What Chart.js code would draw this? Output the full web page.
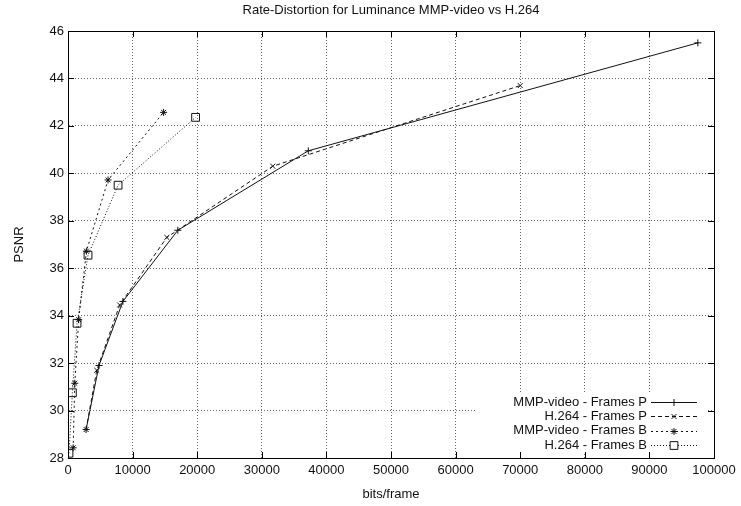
<!DOCTYPE html>
<html>
<head>
<meta charset="utf-8">
<script src="https://cdn.jsdelivr.net/npm/chart.js@4/dist/chart.umd.min.js"></script>
<style>
  html, body { margin: 0; padding: 0; background: #fff; }
  #wrap { width: 741px; height: 506px; }
</style>
</head>
<body>
<div id="wrap"><canvas id="rd"></canvas></div>
<script>
// values
const mmpP_bits  = [2800, 4800, 8500, 17000, 37200, 97500];
const mmpP_psnr  = [29.2, 31.9, 34.6, 37.6, 40.95, 45.5];
const h264P_bits = [2800, 4450, 8000, 15300, 31700, 70000];
const h264P_psnr = [29.2, 31.7, 34.45, 37.3, 40.3, 43.7];
const mmpB_bits  = [800, 1050, 1650, 2850, 6200, 14800];
const mmpB_psnr  = [28.43, 31.15, 33.83, 36.72, 39.72, 42.57];
const h264B_bits = [150, 680, 1400, 3100, 7750, 19750];
const h264B_psnr = [28.2, 30.75, 33.68, 36.55, 39.5, 42.36];

const seriesNames = ["MMP-video - Frames P", "H.264 - Frames P", "MMP-video - Frames B", "H.264 - Frames B"];
const chartTitle = "Rate-Distortion for Luminance MMP-video vs H.264";

const FONT = "'Liberation Sans', Arial, sans-serif";

function pts(xs, ys) {
  return xs.map((x, i) => ({ x: x, y: ys[i] }));
}

function makeSet(label, data, dash, style, radius) {
  return {
    label: label,
    data: data,
    borderColor: "#111",
    borderWidth: 1,
    borderDash: dash,
    pointStyle: style,
    pointRadius: radius,
    pointBorderColor: "#111",
    pointBackgroundColor: "rgba(0,0,0,0)",
    pointBorderWidth: 1,
    fill: false,
    tension: 0
  };
}

// gnuplot style frame, inward ticks, title and legend
const gnuplotLook = {
  id: "gnuplotLook",
  beforeDatasetsDraw(chart) {
    const ctx = chart.ctx;
    const a = chart.chartArea;
    // legend area clears the grid
    ctx.save();
    ctx.fillStyle = "#fff";
    ctx.fillRect(476, 394, a.right - 7 - 476, a.bottom - 6 - 394);
    ctx.restore();
  },
  afterDraw(chart) {
    const ctx = chart.ctx;
    const a = chart.chartArea;
    const xs = chart.scales.x;
    const ys = chart.scales.y;
    ctx.save();
    ctx.strokeStyle = "#000";
    ctx.lineWidth = 1;
    ctx.setLineDash([]);
    ctx.strokeRect(Math.round(a.left) + 0.5, Math.round(a.top) + 0.5,
      Math.round(a.right - a.left), Math.round(a.bottom - a.top));
    const tl = 6;
    ctx.beginPath();
    xs.ticks.forEach(t => {
      const px = Math.round(xs.getPixelForValue(t.value)) + 0.5;
      ctx.moveTo(px, a.bottom); ctx.lineTo(px, a.bottom - tl);
      ctx.moveTo(px, a.top); ctx.lineTo(px, a.top + tl);
    });
    ys.ticks.forEach(t => {
      const py = Math.round(ys.getPixelForValue(t.value)) + 0.5;
      ctx.moveTo(a.left, py); ctx.lineTo(a.left + tl, py);
      ctx.moveTo(a.right, py); ctx.lineTo(a.right - tl, py);
    });
    ctx.stroke();

    // title
    ctx.fillStyle = "#111";
    ctx.font = "13px " + FONT;
    ctx.textAlign = "center";
    ctx.textBaseline = "middle";
    ctx.fillText(chartTitle, (a.left + a.right) / 2, 10);

    // legend
    const textRight = 647;
    const lineL = 651, lineR = 697;
    const rowY = 402;
    const rowH = 14.4;
    chart.data.datasets.forEach((ds, i) => {
      const y = rowY + i * rowH;
      ctx.fillStyle = "#111";
      ctx.textAlign = "right";
      ctx.fillText(ds.label, textRight, y);
      ctx.strokeStyle = "#111";
      ctx.setLineDash(ds.borderDash);
      ctx.beginPath();
      ctx.moveTo(lineL, Math.round(y) + 0.5);
      ctx.lineTo(lineR, Math.round(y) + 0.5);
      ctx.stroke();
      ctx.setLineDash([]);
      ctx.fillStyle = "#fff";
      Chart.helpers.drawPoint(ctx, {
        pointStyle: ds.pointStyle,
        radius: ds.pointRadius,
        borderWidth: 1,
        rotation: 0
      }, (lineL + lineR) / 2, Math.round(y) + 0.5);
    });
    ctx.restore();
  }
};

const tickFont = { family: FONT, size: 13 };

new Chart(document.getElementById("rd"), {
  type: "line",
  data: {
    datasets: [
      makeSet(seriesNames[0], pts(mmpP_bits, mmpP_psnr), [], "cross", 3.5),
      makeSet(seriesNames[1], pts(h264P_bits, h264P_psnr), [4, 3], "crossRot", 3.5),
      makeSet(seriesNames[2], pts(mmpB_bits, mmpB_psnr), [2, 3], "star", 3.5),
      makeSet(seriesNames[3], pts(h264B_bits, h264B_psnr), [1, 2], "rect", 5.5)
    ]
  },
  options: {
    responsive: true,
    maintainAspectRatio: false,
    animation: false,
    layout: { padding: { top: 31, right: 27, bottom: 0, left: 0 } },
    plugins: {
      legend: { display: false },
      title: { display: false },
      tooltip: { enabled: false }
    },
    scales: {
      x: {
        type: "linear",
        min: 0,
        max: 100000,
        ticks: {
          stepSize: 10000, color: "#111", font: tickFont, padding: 5, maxRotation: 0,
          callback: (v) => String(v)
        },
        grid: { color: "rgba(0,0,0,0.6)", lineWidth: 1, drawTicks: false },
        border: { display: true, color: "#000", dash: [1, 2] },
        title: { display: true, text: "bits/frame", color: "#111", font: tickFont, padding: { top: 0, bottom: 4 } },
        afterFit(scale) { scale.height = 48; }
      },
      y: {
        type: "linear",
        min: 28,
        max: 46,
        ticks: { stepSize: 2, color: "#111", font: tickFont, padding: 4 },
        grid: { color: "rgba(0,0,0,0.6)", lineWidth: 1, drawTicks: false },
        border: { display: true, color: "#000", dash: [1, 2] },
        title: { display: true, text: "PSNR", color: "#111", font: tickFont, padding: { top: 12, bottom: 0 } },
        afterFit(scale) { scale.width = 68; }
      }
    }
  },
  plugins: [gnuplotLook]
});
</script>
</body>
</html>
